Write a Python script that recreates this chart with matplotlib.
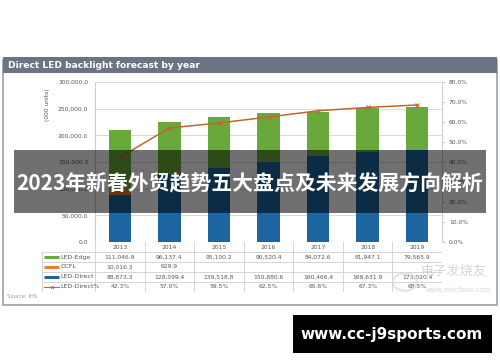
import matplotlib
matplotlib.use("Agg")
import matplotlib.pyplot as plt
from matplotlib.patches import Rectangle
import numpy as np

years = ["2013", "2014", "2015", "2016", "2017", "2018", "2019"]
led_edge = [111046.9, 96137.4, 95100.2, 90520.4, 84072.6, 81947.1, 79565.9]
ccfl = [10016.3, 629.9, 0, 0, 0, 0, 0]
led_direct = [88873.3, 128099.4, 139518.8, 150880.6, 160466.4, 168631.9, 173020.4]
led_direct_pct = [42.3, 57.0, 59.5, 62.5, 65.6, 67.3, 68.5]

edge_lbl = ["111,046.9", "96,137.4", "95,100.2", "90,520.4", "84,072.6", "81,947.1", "79,565.9"]
ccfl_lbl = ["10,016.3", "629.9", "", "", "", "", ""]
direct_lbl = ["88,873.3", "128,099.4", "139,518.8", "150,880.6", "160,466.4", "168,631.9", "173,020.4"]
pct_lbl = ["42.3%", "57.0%", "59.5%", "62.5%", "65.6%", "67.3%", "68.5%"]

left_ticks = [0, 50000, 100000, 150000, 200000, 250000, 300000]
right_ticks = [0, 10, 20, 30, 40, 50, 60, 70, 80]

C_GREEN = "#69a93b"
C_ORANGE = "#ec7d2e"
C_BLUE = "#1c65a0"
C_LINE = "#c4642e"
C_TXT = "#555555"

W, H = 500, 362
fig = plt.figure(figsize=(W / 100, H / 100), dpi=100)
fig.patch.set_facecolor("white")


def fx(px):
    return px / W


def fy(py):
    return 1 - py / H


# chart frame and header
fig.add_artist(Rectangle((fx(3), fy(305)), fx(494), (302 - 57) / H, transform=fig.transFigure,
                         facecolor="white", edgecolor="#9aa0a8", lw=1.2, zorder=0))
fig.add_artist(Rectangle((fx(3), fy(73)), fx(494), 16 / H, transform=fig.transFigure,
                         facecolor="#6a7483", edgecolor="none", zorder=1))
fig.text(fx(8), fy(65), "Direct LED backlight forecast by year", color="white",
         fontsize=6.6, fontweight="bold", va="center", ha="left", family="DejaVu Sans")

# main axes
L, R, T, B = 95, 442, 82, 242
ax = fig.add_axes([fx(L), fy(B), (R - L) / W, (B - T) / H])
x = np.arange(len(years))
bw = 0.45
ax.bar(x, led_direct, bw, color=C_BLUE, zorder=3)
ax.bar(x, ccfl, bw, bottom=led_direct, color=C_ORANGE, zorder=3)
bottom2 = [a + b for a, b in zip(led_direct, ccfl)]
ax.bar(x, led_edge, bw, bottom=bottom2, color=C_GREEN, zorder=3)
ax.set_xlim(-0.5, len(years) - 0.5)
ax.set_ylim(0, 300000)
ax.set_yticks(left_ticks)
ax.set_yticklabels([f"{v:,.1f}" for v in left_ticks])
ax.tick_params(axis="y", labelsize=4.3, colors=C_TXT, length=0, pad=5)
ax.set_xticks([])
ax.grid(axis="y", color="#d9d9d9", lw=0.7, zorder=0)
for s in ["top", "right", "bottom"]:
    ax.spines[s].set_visible(False)
ax.spines["left"].set_color("#cccccc")
ax.spines["left"].set_linewidth(0.7)
ax.set_ylabel("(000 units)", fontsize=4.3, color=C_TXT)
ax.yaxis.set_label_coords(-0.13, 0.86)

ax2 = ax.twinx()
ax2.plot(x, led_direct_pct, color=C_LINE, lw=1.1, marker="x", ms=2.5, mew=0.8, zorder=5)
ax2.set_ylim(0, 80)
ax2.set_yticks(right_ticks)
ax2.set_yticklabels([f"{v:.1f}%" for v in right_ticks])
ax2.tick_params(axis="y", labelsize=4.3, colors=C_TXT, length=2, color="#cccccc", pad=3)
for s in ["top", "left", "bottom"]:
    ax2.spines[s].set_visible(False)
ax2.spines["right"].set_color("#cccccc")
ax2.spines["right"].set_linewidth(0.7)

# data table
TL, TT, TB = 42, 242, 292
ext = (L - TL) / ((R - L) / len(years))
tax = fig.add_axes([fx(TL), fy(TB), (R - TL) / W, (TB - TT) / H])
tax.set_xlim(-0.5 - ext, len(years) - 0.5)
nrows = 5
tax.set_ylim(nrows, 0)
tax.axis("off")
gc = "#cfcfcf"
for r in range(1, nrows + 1):
    tax.plot([-0.5 - ext, len(years) - 0.5], [r, r], color=gc, lw=0.6)
tax.plot([-0.5 - ext, -0.5 - ext], [1, nrows], color=gc, lw=0.6)
for i in range(len(years) + 1):
    tax.plot([i - 0.5, i - 0.5], [0, nrows], color=gc, lw=0.6)
for i, yv in enumerate(years):
    tax.text(i, 0.5, yv, ha="center", va="center", fontsize=4.3, color=C_TXT)
rows = [("LED-Edge", edge_lbl, C_GREEN, "bar"), ("CCFL", ccfl_lbl, C_ORANGE, "bar"),
        ("LED-Direct", direct_lbl, C_BLUE, "bar"), ("LED-Direct%", pct_lbl, C_LINE, "line")]
for r, (name, labels, col, kind) in enumerate(rows, start=1):
    yc = r + 0.5
    kx0 = -0.5 - ext + 0.05
    kx1 = kx0 + 0.3
    if kind == "bar":
        tax.plot([kx0, kx1], [yc, yc], color=col, lw=2.2, solid_capstyle="butt")
    else:
        tax.plot([kx0, kx1], [yc, yc], color=col, lw=0.8)
        tax.plot([(kx0 + kx1) / 2], [yc], color=col, marker="x", ms=2, mew=0.6)
    tax.text(kx1 + 0.02, yc, name, ha="left", va="center", fontsize=4.5, color=C_TXT)
    for i, lab in enumerate(labels):
        tax.text(i, yc, lab, ha="center", va="center", fontsize=4.3, color=C_TXT)

fig.text(fx(7), fy(297), "Source: IHS", fontsize=3.8, color="#999999", va="center", ha="left")

# faint watermark
fig.text(fx(453), fy(271), "电子发烧友", fontsize=9.5, color="#bbbbbb", alpha=0.6,
         ha="center", va="center", family=["Noto Sans CJK SC", "DejaVu Sans"], style="italic")
fig.text(fx(458), fy(290), "www.elecfans.com", fontsize=5, color="#bbbbbb", alpha=0.6,
         ha="center", va="center")
fig.add_artist(plt.Circle((fx(405), fy(282)), 12 / W, transform=fig.transFigure, fill=False,
                          edgecolor="#dddddd", lw=1.5, alpha=0.8))

# dark banner overlay
fig.add_artist(Rectangle((fx(14), fy(213)), fx(472), 63 / H, transform=fig.transFigure,
                         facecolor="black", alpha=0.56, edgecolor="none", zorder=10))
fig.text(fx(250), fy(183), "2023年新春外贸趋势五大盘点及未来发展方向解析", color="white",
         fontsize=15.0, fontweight="bold", ha="center", va="center", zorder=11,
         family=["Noto Sans CJK SC", "DejaVu Sans"])

# black URL box
fig.add_artist(Rectangle((fx(293), fy(353)), fx(199), 38 / H, transform=fig.transFigure,
                         facecolor="black", edgecolor="none", zorder=10))
fig.text(fx(392), fy(334), "www.cc-j9sports.com", color="white", fontsize=11, fontweight="bold",
         ha="center", va="center", zorder=11, family="DejaVu Sans")

fig.savefig("out.png", dpi=100)
